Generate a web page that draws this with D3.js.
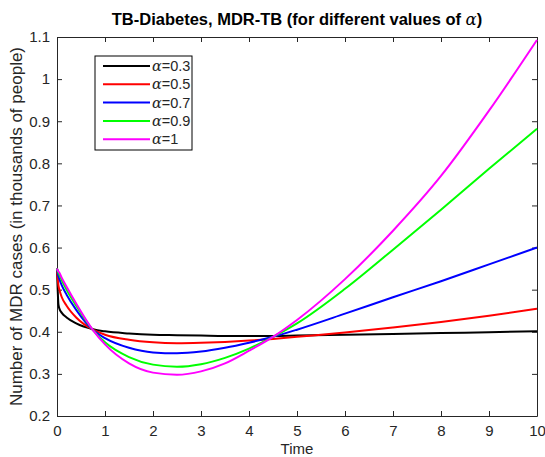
<!DOCTYPE html>
<html>
<head>
<meta charset="utf-8">
<script src="https://cdn.jsdelivr.net/npm/d3@7"></script>
<style>
  body { margin: 0; background: #fff; }
  svg text { font-family: "Liberation Sans", Arial, sans-serif; }
</style>
</head>
<body>
<div id="chart"></div>
<script>
// giá trị
const times = [0, 0.03, 0.05, 0.1, 0.2, 0.4, 0.75, 1, 1.5, 2, 2.5, 3, 3.5, 4, 4.5, 5, 6, 7, 8, 9, 10];
const alpha03 = [0.55, 0.465, 0.455, 0.445, 0.434, 0.42, 0.406, 0.401, 0.396, 0.393, 0.392, 0.391, 0.390, 0.390, 0.390, 0.391, 0.393, 0.395, 0.397, 0.399, 0.401];
const alpha05 = [0.55, 0.51, 0.50, 0.482, 0.462, 0.434, 0.405, 0.393, 0.381, 0.375, 0.373, 0.374, 0.376, 0.379, 0.383, 0.388, 0.398, 0.41, 0.423, 0.438, 0.455];
const alpha07 = [0.55, 0.532, 0.525, 0.51, 0.488, 0.452, 0.404, 0.385, 0.362, 0.351, 0.349, 0.353, 0.362, 0.374, 0.388, 0.405, 0.443, 0.482, 0.52, 0.56, 0.60];
const alpha09 = [0.55, 0.54, 0.535, 0.522, 0.50, 0.462, 0.404, 0.375, 0.34, 0.322, 0.317, 0.323, 0.338, 0.36, 0.388, 0.42, 0.502, 0.595, 0.69, 0.787, 0.882];
const alpha1  = [0.55, 0.543, 0.54, 0.528, 0.507, 0.467, 0.404, 0.37, 0.325, 0.303, 0.298, 0.306, 0.325, 0.355, 0.388, 0.428, 0.525, 0.64, 0.77, 0.925, 1.093];
const seriesNames = ["0.3", "0.5", "0.7", "0.9", "1"];
const seriesColors = ["#000000", "#ff0000", "#0000ff", "#00ff00", "#ff00ff"];
const xTicks = [0, 1, 2, 3, 4, 5, 6, 7, 8, 9, 10];
const yTicks = [0.2, 0.3, 0.4, 0.5, 0.6, 0.7, 0.8, 0.9, 1, 1.1];

const width = 545, height = 457;
const margin = { top: 37, right: 8, bottom: 41, left: 57 };
const innerW = width - margin.left - margin.right;
const innerH = height - margin.top - margin.bottom;

const svg = d3.select("#chart").append("svg")
  .attr("width", width)
  .attr("height", height);

const g = svg.append("g")
  .attr("transform", `translate(${margin.left},${margin.top})`);

const x = d3.scaleLinear().domain([0, 10]).range([0, innerW]);
const y = d3.scaleLinear().domain([0.2, 1.1]).range([innerH, 0]);

const axisColor = "#262626";
const fmtY = d => d3.format("")(+d.toFixed(1));

// trục (tick hướng vào trong, giống MATLAB)
function styleAxis(sel, hideText) {
  sel.select(".domain").attr("stroke", axisColor);
  sel.selectAll(".tick line").attr("stroke", axisColor);
  sel.selectAll(".tick text")
    .attr("fill", axisColor)
    .style("font-size", "15px");
  if (hideText) sel.selectAll(".tick text").remove();
}

g.append("g")
  .attr("transform", `translate(0,${innerH})`)
  .call(d3.axisBottom(x).tickValues(xTicks).tickSize(-5).tickPadding(9).tickSizeOuter(0))
  .call(s => styleAxis(s, false));

g.append("g")
  .call(d3.axisTop(x).tickValues(xTicks).tickSize(-5).tickSizeOuter(0))
  .call(s => styleAxis(s, true));

g.append("g")
  .call(d3.axisLeft(y).tickValues(yTicks).tickFormat(fmtY).tickSize(-5).tickPadding(7).tickSizeOuter(0))
  .call(s => styleAxis(s, false));

g.append("g")
  .attr("transform", `translate(${innerW},0)`)
  .call(d3.axisRight(y).tickValues(yTicks).tickSize(-5).tickSizeOuter(0))
  .call(s => styleAxis(s, true));

// đường cong
const allSeries = [alpha03, alpha05, alpha07, alpha09, alpha1];
const line = d3.line()
  .x((d, i) => x(times[i]))
  .y(d => y(d))
  .curve(d3.curveMonotoneX);

allSeries.forEach((vals, k) => {
  g.append("path")
    .datum(vals)
    .attr("fill", "none")
    .attr("stroke", seriesColors[k])
    .attr("stroke-width", 2)
    .attr("d", line);
});

// legend
const lg = svg.append("g").attr("transform", "translate(95,56)");
lg.append("rect")
  .attr("width", 97).attr("height", 94)
  .attr("fill", "#fff")
  .attr("stroke", "#000")
  .attr("stroke-width", 1);
seriesNames.forEach((name, k) => {
  const yy = 10 + k * 18.3;
  lg.append("line")
    .attr("x1", 8).attr("x2", 55)
    .attr("y1", yy).attr("y2", yy)
    .attr("stroke", seriesColors[k])
    .attr("stroke-width", 2);
  const t = lg.append("text")
    .attr("x", 57).attr("y", yy + 5)
    .style("font-size", "14.5px")
    .attr("fill", axisColor);
  t.append("tspan")
    .style("font-family", "'DejaVu Serif', 'Liberation Serif', serif")
    .style("font-style", "italic")
    .text("α");
  t.append("tspan").text("=" + name);
});

// tiêu đề & nhãn
const title = svg.append("text")
  .attr("x", margin.left + innerW / 2)
  .attr("y", 25)
  .attr("text-anchor", "middle")
  .style("font-size", "16.5px")
  .style("font-weight", "bold")
  .attr("fill", "#000");
title.append("tspan").text("TB-Diabetes, MDR-TB (for different values of ");
title.append("tspan")
  .style("font-family", "'DejaVu Serif', 'Liberation Serif', serif")
  .style("font-style", "italic")
  .style("font-weight", "normal")
  .text("α");
title.append("tspan").text(")");

svg.append("text")
  .attr("transform", `translate(22,${margin.top + innerH / 2}) rotate(-90)`)
  .attr("text-anchor", "middle")
  .style("font-size", "17px")
  .attr("fill", axisColor)
  .text("Number of MDR cases (in thousands of people)");

svg.append("text")
  .attr("x", margin.left + innerW / 2)
  .attr("y", 454)
  .attr("text-anchor", "middle")
  .style("font-size", "15px")
  .attr("fill", axisColor)
  .text("Time");
</script>
</body>
</html>
